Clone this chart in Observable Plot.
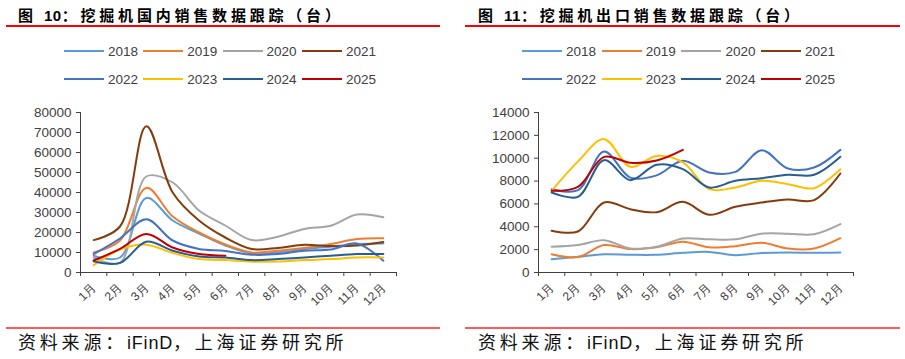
<!DOCTYPE html>
<html><head><meta charset="utf-8">
<script src="https://cdn.jsdelivr.net/npm/d3@7"></script>
<script src="https://cdn.jsdelivr.net/npm/@observablehq/plot@0.6"></script>
<style>
body{margin:0;background:#fff;}
#root{position:relative;width:905px;height:359px;overflow:hidden;font-family:"Liberation Sans",Arial,sans-serif;}
.panel{position:absolute;top:0;width:453px;height:359px;}
.title{position:absolute;top:4px;font-weight:bold;font-size:15px;font-family:"Noto Sans CJK SC",sans-serif;letter-spacing:3.8px;color:#000;white-space:nowrap;line-height:22px;}
.title b{font-family:"Liberation Sans",Arial,sans-serif;letter-spacing:0.5px;}
.rtop{position:absolute;top:25px;height:1.5px;background:#ff0000;}
.rbot{position:absolute;top:327px;height:2px;background:#ff5a5a;}
.caption{position:absolute;top:329px;font-size:18px;font-family:"Noto Sans CJK SC",sans-serif;letter-spacing:3.8px;color:#111;white-space:nowrap;line-height:24px;}
.caption i{font-style:normal;font-family:"Liberation Sans",Arial,sans-serif;letter-spacing:0.8px;}
.item{position:absolute;display:flex;align-items:center;font-size:13.5px;color:#404040;height:16px;}
.sw{width:40px;height:2.5px;margin-right:4px;}
.chart{position:absolute;top:100px;left:0;}
</style>
</head><body><div id="root"></div>
<script>
const months = ["1月","2月","3月","4月","5月","6月","7月","8月","9月","10月","11月","12月"];
const years = ["2018","2019","2020","2021","2022","2023","2024","2025"];
const colors = ["#5B9BD5","#ED7D31","#A5A5A5","#843C0C","#4472C4","#FFC000","#255E91","#C00000"];

// 国内销售 (台)
const dom2018 = [8400, 7500, 37300, 26000, 19500, 13500, 9500, 10000, 11700, 12900, 14200, 14500];
const dom2019 = [10000, 16000, 42300, 28000, 20000, 14000, 10000, 10900, 12200, 14200, 16700, 17100];
const dom2020 = [7500, 4800, 48000, 45000, 31000, 23500, 16200, 17900, 21800, 23400, 29000, 27600];
const dom2021 = [16200, 23000, 73100, 40000, 26000, 17500, 11800, 12300, 13900, 13200, 13500, 15300];
const dom2022 = [9200, 17000, 26600, 16000, 11800, 10800, 8900, 9200, 10900, 11500, 14500, 5900];
const dom2023 = [3700, 11500, 13900, 9700, 6700, 6200, 5400, 5500, 6200, 6700, 7500, 7500];
const dom2024 = [5600, 4800, 15400, 10900, 8000, 7500, 6200, 6700, 7500, 8400, 9200, 9200];
const dom2025 = [6000, 11800, 19300, 12500, 9200, 8400];

// 出口销售 (台)
const exp2018 = [1170, 1370, 1600, 1550, 1550, 1720, 1800, 1520, 1700, 1750, 1720, 1750];
const exp2019 = [1600, 1350, 2400, 2050, 2200, 2700, 2200, 2300, 2600, 2100, 2100, 3000];
const exp2020 = [2250, 2400, 2830, 2100, 2250, 2970, 2900, 2900, 3400, 3400, 3350, 4230];
const exp2021 = [3650, 3590, 6130, 5540, 5280, 6180, 5050, 5750, 6120, 6390, 6330, 8660];
const exp2022 = [7290, 7200, 10590, 8300, 8500, 9770, 8750, 8800, 10700, 9100, 9190, 10730];
const exp2023 = [7150, 9700, 11670, 9250, 10200, 9630, 7300, 7440, 8020, 7730, 7380, 9040];
const exp2024 = [7000, 6620, 9830, 8080, 9420, 9040, 7440, 8020, 8250, 8550, 8550, 10120];
const exp2025 = [7150, 7500, 10120, 9600, 9800, 10730];

const domSeries = [dom2018, dom2019, dom2020, dom2021, dom2022, dom2023, dom2024, dom2025];
const expSeries = [exp2018, exp2019, exp2020, exp2021, exp2022, exp2023, exp2024, exp2025];

const domTitle = ["图 ", "10", "：挖掘机国内销售数据跟踪（台）"];
const expTitle = ["图 ", "11", "：挖掘机出口销售数据跟踪（台）"];
const captionParts = ["资料来源：", "iFinD", "，上海证券研究所"];

const xDomain = [0.5, 12.5];

function toRows(series) {
  return series.flatMap((vals, i) => vals.map((v, j) => ({year: years[i], m: j + 1, v})));
}

function makeChart(series, yMax, yStep, mLeft, mRight) {
  return Plot.plot({
    width: 453, height: 222,
    marginLeft: mLeft, marginRight: mRight, marginTop: 12, marginBottom: 50,
    style: {fontFamily: "'Liberation Sans', Arial, sans-serif", fontSize: "13.5px", color: "#404040", background: "transparent", overflow: "visible"},
    x: {type: "linear", domain: xDomain},
    y: {domain: [0, yMax]},
    color: {domain: years, range: colors},
    marks: [
      Plot.axisY({ticks: d3.range(0, yMax + 1, yStep), tickSize: 4, tickPadding: 5, tickFormat: d => String(d), label: null, fill: "#404040"}),
      Plot.axisX({ticks: d3.range(0.5, 13, 1), tickSize: 4, tickFormat: () => "", label: null}),
      Plot.axisX({ticks: d3.range(1, 13), tickSize: 0, tickPadding: 13, tickRotate: -45, textAnchor: "end", lineAnchor: "middle", fontSize: 12, tickFormat: d => months[d - 1], label: null, fill: "#404040"}),
      Plot.ruleX([xDomain[0]], {stroke: "#404040"}),
      Plot.ruleY([0], {stroke: "#404040"}),
      Plot.line(toRows(series), {x: "m", y: "v", z: "year", stroke: "year", strokeWidth: 2, curve: "catmull-rom"})
    ]
  });
}

function makePanel(left, titleParts, series, yMax, yStep, mLeft, mRight, opts) {
  const root = document.getElementById("root");
  const p = document.createElement("div");
  p.className = "panel";
  p.style.left = left + "px";
  root.appendChild(p);

  const t = document.createElement("div");
  t.className = "title";
  t.style.left = opts.titleX + "px";
  t.append(titleParts[0]);
  const b = document.createElement("b"); b.textContent = titleParts[1]; t.append(b);
  t.append(titleParts[2]);
  p.appendChild(t);

  const r1 = document.createElement("div");
  r1.className = "rtop"; r1.style.left = opts.ruleX0 + "px"; r1.style.width = (opts.ruleX1 - opts.ruleX0) + "px";
  p.appendChild(r1);

  years.forEach((y, i) => {
    const it = document.createElement("div");
    it.className = "item";
    it.style.left = (opts.legX + (i % 4) * opts.legStep) + "px";
    it.style.top = (i < 4 ? 43 : 71) + "px";
    const sw = document.createElement("span"); sw.className = "sw"; sw.style.background = colors[i];
    const tx = document.createElement("span"); tx.textContent = y;
    it.append(sw, tx);
    p.appendChild(it);
  });

  const c = document.createElement("div");
  c.className = "chart";
  c.appendChild(makeChart(series, yMax, yStep, mLeft, mRight));
  p.appendChild(c);

  const r2 = document.createElement("div");
  r2.className = "rbot"; r2.style.left = opts.ruleX0 + "px"; r2.style.width = (opts.ruleX1 - opts.ruleX0) + "px";
  p.appendChild(r2);

  const cap = document.createElement("div");
  cap.className = "caption"; cap.style.left = opts.titleX + "px";
  cap.append(captionParts[0]);
  const ci = document.createElement("i"); ci.textContent = captionParts[1]; cap.append(ci);
  cap.append(captionParts[2]);
  p.appendChild(cap);
}

makePanel(0, domTitle, domSeries, 80000, 10000, 80, 57, {titleX: 18, ruleX0: 6, ruleX1: 440, legX: 64, legStep: 79.3});
makePanel(452, expTitle, expSeries, 14000, 2000, 86, 52, {titleX: 26, ruleX0: 13, ruleX1: 448, legX: 70, legStep: 79.7});
</script>
</body></html>
